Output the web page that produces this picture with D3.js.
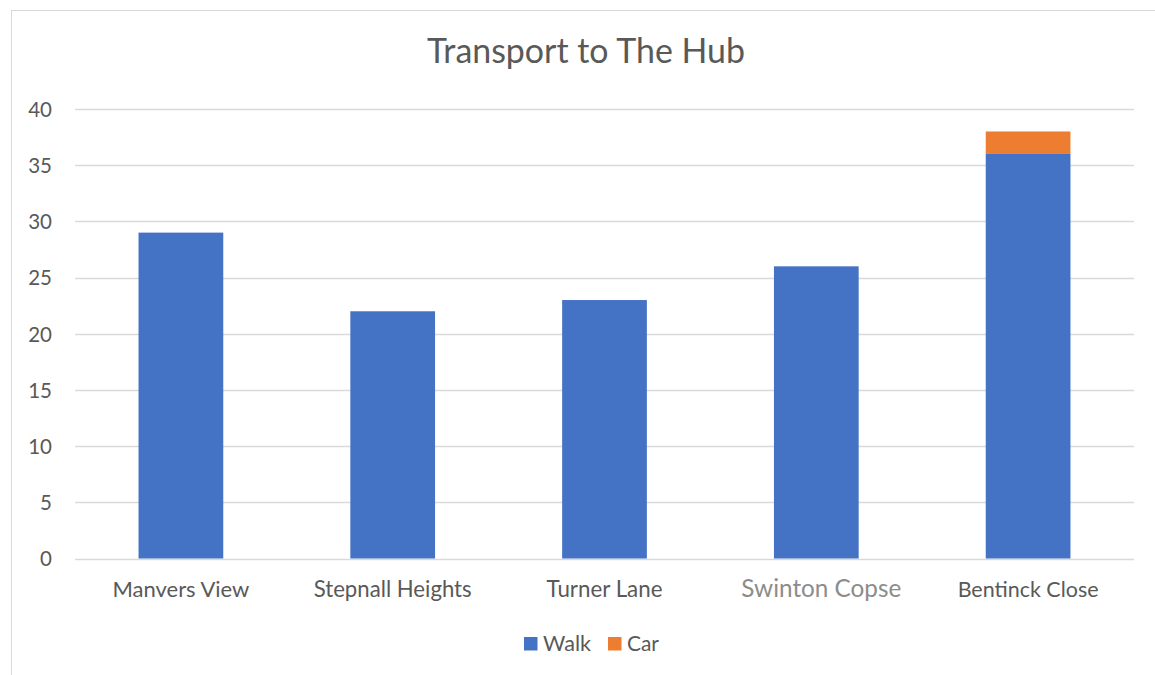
<!DOCTYPE html>
<html>
<head>
<meta charset="utf-8">
<script src="https://cdn.jsdelivr.net/npm/d3@7"></script>
<style>
  html, body { margin: 0; padding: 0; background: #ffffff; }
  svg { display: block; }
  text { font-family: Lato, "Open Sans", sans-serif; }
</style>
</head>
<body>
<svg id="chart" width="1155" height="675"></svg>
<script>
const title = "Transport to The Hub";
const categories = ["Manvers View", "Stepnall Heights", "Turner Lane", "Swinton Copse", "Bentinck Close"];
const seriesNames = ["Walk", "Car"];
const walkValues = [29, 22, 23, 26, 36];
const carValues = [0, 0, 0, 0, 2];
const yTicks = [0, 5, 10, 15, 20, 25, 30, 35, 40];
const colors = ["#4472C4", "#ED7D31"];

const svg = d3.select("#chart");
const W = 1155, H = 675;

function fit(sel, target) {
  const len = sel.node().getComputedTextLength();
  const fs = parseFloat(sel.attr("font-size"));
  sel.attr("font-size", (fs * target / len).toFixed(2));
}

// chart border
svg.append("rect")
  .attr("x", 11.5).attr("y", 10.5)
  .attr("width", W + 20).attr("height", H + 20)
  .attr("fill", "#fff").attr("stroke", "#d9d9d9").attr("stroke-width", 1);

const plot = { left: 75, right: 1134, top: 109, bottom: 558.5 };

const x = d3.scaleBand().domain(categories)
  .range([plot.left, plot.right]).paddingInner(0.6).paddingOuter(0.3);
const y = d3.scaleLinear().domain([0, 40]).range([plot.bottom, plot.top]);

// gridlines
svg.append("g").selectAll("line").data(yTicks).join("line")
  .attr("x1", plot.left).attr("x2", plot.right)
  .attr("y1", d => Math.round(y(d)) + 0.5).attr("y2", d => Math.round(y(d)) + 0.5)
  .attr("stroke", "#d9d9d9").attr("stroke-width", 1.3);

// y axis labels
const yAxis = d3.axisLeft(y).tickValues(yTicks).tickSize(0).tickPadding(0);
const gy = svg.append("g").attr("transform", "translate(52,0)").call(yAxis);
gy.select(".domain").remove();
gy.selectAll("text")
  .attr("font-family", "Lato, sans-serif")
  .attr("font-size", 20.5)
  .attr("fill", "#595959")
  .attr("dy", "0.36em");

// stacked bars
const data = categories.map((c, i) => ({ cat: c, Walk: walkValues[i], Car: carValues[i] }));
const stacked = d3.stack().keys(seriesNames)(data);
svg.append("g").selectAll("g").data(stacked).join("g")
  .attr("fill", (d, i) => colors[i])
  .selectAll("rect").data(d => d.filter(p => p[1] - p[0] > 0)).join("rect")
  .attr("x", d => x(d.data.cat))
  .attr("width", x.bandwidth())
  .attr("y", d => y(d[1]))
  .attr("height", d => y(d[0]) - y(d[1]));

// x axis labels
const xAxis = d3.axisBottom(x).tickSize(0).tickPadding(0);
const gx = svg.append("g").attr("transform", "translate(0,597)").call(xAxis);
gx.select(".domain").remove();
const catWidths = [137, 158, 116, 160, 141];
gx.selectAll("text")
  .attr("font-family", "Lato, sans-serif")
  .attr("font-size", 20)
  .attr("dy", 0)
  .attr("fill", (d) => d === "Swinton Copse" ? "#8c8c8c" : "#595959")
  .each(function (d, i) { fit(d3.select(this), catWidths[i]); });
gx.selectAll(".tick").filter(d => d === "Swinton Copse")
  .select("text").attr("dx", 5);

// title
const t = svg.append("text")
  .attr("x", 586).attr("y", 63)
  .attr("text-anchor", "middle")
  .attr("font-size", 34)
  .attr("fill", "#595959")
  .text(title);
fit(t, 318);

// legend
const legendX = [524, 608];
const legendW = [48, 32];
const lg = svg.append("g").selectAll("g").data(seriesNames).join("g")
  .attr("transform", (d, i) => `translate(${legendX[i]},0)`);
lg.append("rect").attr("x", 0).attr("y", 637).attr("width", 13.5).attr("height", 13.5)
  .attr("fill", (d, i) => colors[i]);
lg.append("text").attr("x", 19).attr("y", 651)
  .attr("font-size", 20).attr("fill", "#595959")
  .text(d => d)
  .each(function (d, i) { fit(d3.select(this), legendW[i]); });
</script>
</body>
</html>
